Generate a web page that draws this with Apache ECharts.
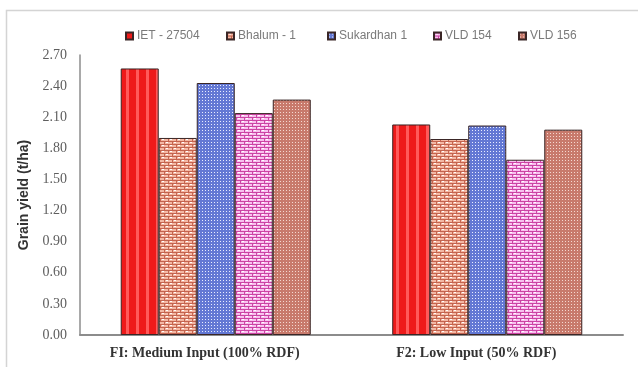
<!DOCTYPE html>
<html><head><meta charset="utf-8">
<script src="https://cdn.jsdelivr.net/npm/echarts@6/dist/echarts.min.js"></script>
<style>html,body{margin:0;padding:0;background:#fff}#c{width:638px;height:367px}</style>
</head><body><div id="c"></div>
<script>
const categories = ['FI: Medium Input (100% RDF)', 'F2: Low Input (50% RDF)'];
const seriesNames = ['IET - 27504', 'Bhalum - 1', 'Sukardhan 1', 'VLD 154', 'VLD 156'];
const iet27504 = [2.57, 2.03];
const bhalum1 = [1.90, 1.89];
const sukardhan1 = [2.43, 2.02];
const vld154 = [2.14, 1.69];
const vld156 = [2.27, 1.98];
const yTicks = { min: 0, max: 2.7, interval: 0.3 };

function mk(w, h, draw) {
  const c = document.createElement('canvas'); c.width = w; c.height = h;
  draw(c.getContext('2d')); return c;
}
const stripes = mk(10, 4, g => {
  g.fillStyle = '#ee1a1a'; g.fillRect(0, 0, 10, 4);
  g.fillStyle = '#ff5a5a'; g.fillRect(6, 0, 3, 4);
});
function brick(bg, line, hi) {
  return mk(8, 6, g => {
    g.fillStyle = bg; g.fillRect(0, 0, 8, 6);
    g.fillStyle = hi; g.fillRect(2, 1, 2, 1); g.fillRect(6, 4, 2, 1);
    g.fillStyle = line;
    g.fillRect(0, 0, 8, 1); g.fillRect(0, 3, 8, 1);
    g.fillRect(0, 1, 1, 2); g.fillRect(4, 4, 1, 2);
  });
}
function dots(bg, dot) {
  return mk(3, 3, g => {
    g.fillStyle = bg; g.fillRect(0, 0, 3, 3);
    g.fillStyle = dot; g.fillRect(1, 1, 1, 1);
  });
}
const pats = [
  stripes,
  brick('#f4b8a4', '#c4644f', '#ffffff'),
  dots('#6378d4', '#e8ecff'),
  brick('#f8c0ee', '#cc44a4', '#ffffff'),
  dots('#c87a6c', '#f4d8d0')
];
const values = [iet27504, bhalum1, sukardhan1, vld154, vld156];
const legendLefts = [120, 221, 322, 428, 513];

const chart = echarts.init(document.getElementById('c'));
chart.setOption({
  animation: false,
  backgroundColor: '#fff',
  graphic: [{ type: 'rect', shape: { x: 6.5, y: 10.5, width: 640, height: 400 },
    style: { fill: 'none', stroke: '#d4d4d4', lineWidth: 1.5 }, silent: true, z: -1 }],
  legend: seriesNames.map((n, i) => ({
    data: [n], left: legendLefts[i], top: 25, itemWidth: 7, itemHeight: 7, itemGap: 0,
    icon: 'rect', textStyle: { color: '#7a7a7a', fontSize: 12, fontFamily: 'Liberation Sans', padding: [0, 0, 0, -1] }
  })),
  grid: { left: 80, right: 15, top: 55, bottom: 32 },
  xAxis: {
    type: 'category', data: categories,
    axisLine: { lineStyle: { color: '#8c8c8c', width: 2 } },
    axisTick: { show: false },
    axisLabel: { color: '#333', fontSize: 14, fontWeight: 'bold', fontFamily: 'Liberation Serif', margin: 11,
      padding: [0, 22, 0, 0] }
  },
  yAxis: {
    type: 'value', min: yTicks.min, max: yTicks.max, interval: yTicks.interval,
    name: 'Grain yield (t/ha)', nameLocation: 'middle', nameGap: 41,
    nameTextStyle: { color: '#333', fontSize: 14, fontWeight: 'bold', fontFamily: 'Liberation Sans' },
    axisLine: { show: true, lineStyle: { color: '#8c8c8c', width: 1.5 } },
    axisTick: { show: false },
    splitLine: { show: false },
    axisLabel: { color: '#5e5e5e', fontSize: 14, fontFamily: 'Liberation Serif', margin: 13,
      formatter: v => v.toFixed(2) }
  },
  series: seriesNames.map((n, i) => ({
    name: n, type: 'bar', data: values[i], barGap: '0%', barCategoryGap: '30%',
    itemStyle: { color: { image: pats[i], repeat: 'repeat' }, borderColor: '#3a2626', borderWidth: 1 }
  }))
});
</script></body></html>
